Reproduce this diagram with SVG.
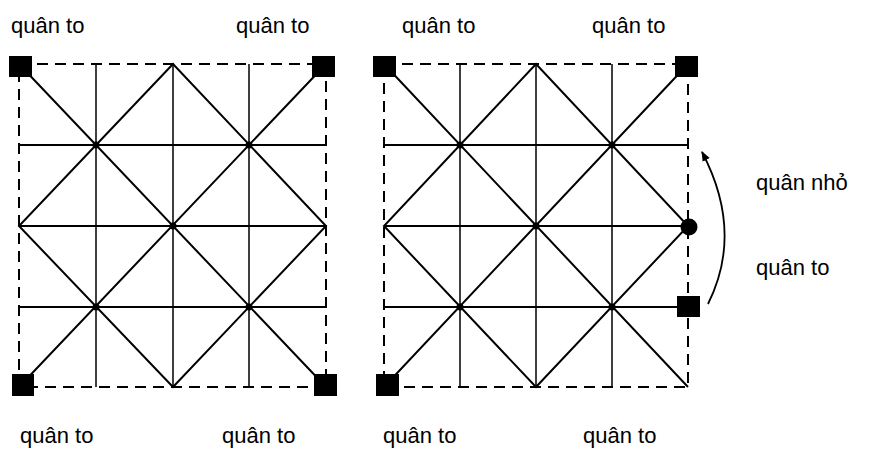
<svg xmlns="http://www.w3.org/2000/svg" width="869" height="454" viewBox="0 0 869 454">
<defs>
<style>
.bg{fill:#fff}
.dash{fill:none;stroke:#000;stroke-width:2;stroke-dasharray:11 7}
.ln{fill:none;stroke:#000;stroke-width:2}
.vl{fill:none;stroke:#000;stroke-width:1.5}
.piece{fill:#000}
.dot{fill:#000}
.lbl{font-family:"Liberation Sans",Arial,sans-serif;font-size:22px;fill:#000}
</style>
<marker id="ah" markerWidth="12" markerHeight="12" refX="9" refY="5" orient="auto" markerUnits="userSpaceOnUse">
<path d="M0,1 L10,5 L0,9 Z" fill="#000"/>
</marker>
</defs>
<rect class="bg" x="0" y="0" width="869" height="454"/>

<g id="board-left">
<rect class="dash" x="19" y="64" width="307" height="323"/>
<path class="ln" d="M19,145 H326 M19,226 H326 M19,307 H326"/>
<path class="vl" d="M96,64 V387 M173,64 V387 M249,64 V387"/>
<path class="ln" d="M19,64 L326,387 M326,64 L19,387 M173,64 L19,226 L173,387 L326,226 Z"/>
<circle class="dot" cx="96" cy="145" r="3.5"/>
<circle class="dot" cx="249" cy="145" r="3.5"/>
<circle class="dot" cx="173" cy="226" r="3.5"/>
<circle class="dot" cx="96" cy="307" r="3.5"/>
<circle class="dot" cx="249" cy="307" r="3.5"/>
</g>

<g id="board-right">
<rect class="dash" x="384" y="64" width="304" height="323"/>
<path class="ln" d="M384,145 H688 M384,226 H688 M384,307 H688"/>
<path class="vl" d="M460,64 V387 M536,64 V387 M612,64 V387"/>
<path class="ln" d="M384,64 L688,387 M688,64 L384,387 M536,64 L384,226 L536,387 L688,226 Z"/>
<circle class="dot" cx="460" cy="145" r="3.5"/>
<circle class="dot" cx="612" cy="145" r="3.5"/>
<circle class="dot" cx="536" cy="226" r="3.5"/>
<circle class="dot" cx="460" cy="307" r="3.5"/>
<circle class="dot" cx="612" cy="307" r="3.5"/>
</g>

<g id="pieces-left">
<rect class="piece" x="9" y="56" width="23" height="21"/>
<rect class="piece" x="312" y="56" width="23" height="21"/>
<rect class="piece" x="12" y="374" width="22" height="22"/>
<rect class="piece" x="314" y="374" width="23" height="22"/>
</g>

<g id="pieces-right">
<rect class="piece" x="373" y="56" width="23" height="21"/>
<rect class="piece" x="675" y="56" width="23" height="21"/>
<rect class="piece" x="376" y="374" width="23" height="22"/>
<rect class="piece" x="677" y="296" width="23" height="21"/>
<circle class="piece" cx="689" cy="227" r="8.5"/>
</g>

<g id="connectors">
<path d="M708,304 Q744,232 702,152" fill="none" stroke="#000" stroke-width="1.8" marker-end="url(#ah)"/>
</g>

<g id="labels">
<text class="lbl" x="11" y="33">quân to</text>
<text class="lbl" x="236" y="33">quân to</text>
<text class="lbl" x="402" y="33">quân to</text>
<text class="lbl" x="592" y="33">quân to</text>
<text class="lbl" x="20" y="443">quân to</text>
<text class="lbl" x="222" y="443">quân to</text>
<text class="lbl" x="383" y="443">quân to</text>
<text class="lbl" x="583" y="443">quân to</text>
<text class="lbl" x="756" y="190">quân nhỏ</text>
<text class="lbl" x="756" y="275">quân to</text>
</g>
</svg>
